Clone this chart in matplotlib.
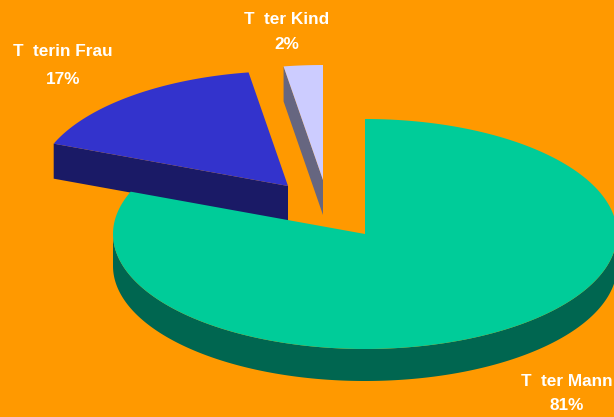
import numpy as np
from matplotlib import pyplot as plt
from matplotlib.patches import Polygon

labels = ["T  ter Mann", "T  terin Frau", "T  ter Kind"]
percent_labels = ["81%", "17%", "2%"]
shares = [81.0, 16.5, 2.5]
top_colors = ["#00CC99", "#3333CC", "#CCCCFF"]
side_colors = ["#006650", "#1A1A66", "#666680"]

BG = "#FF9900"
RX, RY = 252, 115
DEPTH = [32, 35, 35]
APEX = [(365, 234), (288, 186), (323, 180)]
LABEL_POS = [(567, 381, 406), (63, 51, 79), (287, 19, 44)]


def rim(apex, a0, a1, n=200):
    # angles are clockwise from 12 o'clock, pie squashed into an ellipse
    t = np.radians(np.linspace(a0, a1, n))
    return np.column_stack([apex[0] + RX * np.sin(t), apex[1] - RY * np.cos(t)])


def draw_slice(ax, i, a0, a1):
    apex = APEX[i]
    d = np.array([0, DEPTH[i]])
    if i == 0:
        # outer wall, only the front half of the rim shows
        edge = rim(apex, 90, 270)
        wall = np.vstack([edge, (edge + d)[::-1]])
    else:
        # cut face on the left radial edge
        corner = rim(apex, a0, a0, 1)[0]
        wall = np.array([corner, apex, apex + d, corner + d])
    ax.add_patch(Polygon(wall, closed=True, fc=side_colors[i], ec="none"))
    top = np.vstack([[apex], rim(apex, a0, a1)])
    ax.add_patch(Polygon(top, closed=True, fc=top_colors[i], ec="none"))


fig = plt.figure(figsize=(6.14, 4.17), dpi=100, facecolor=BG)
ax = fig.add_axes([0, 0, 1, 1])
ax.set_xlim(0, 614)
ax.set_ylim(417, 0)
ax.axis("off")

ends = np.cumsum(shares) / sum(shares) * 360
starts = np.concatenate([[0], ends[:-1]])

# back to front, the big slice overlaps the dark face of the blue one
for i in [2, 1, 0]:
    draw_slice(ax, i, starts[i], ends[i])

for i in range(3):
    x, y1, y2 = LABEL_POS[i]
    ax.text(x, y1, labels[i], color="white", ha="center", va="center",
            family="Liberation Sans", weight="bold", fontsize=12.4)
    ax.text(x, y2, percent_labels[i], color="white", ha="center", va="center",
            family="Liberation Sans", weight="bold", fontsize=12.4)

fig.savefig("out.png", dpi=100, facecolor=BG)
